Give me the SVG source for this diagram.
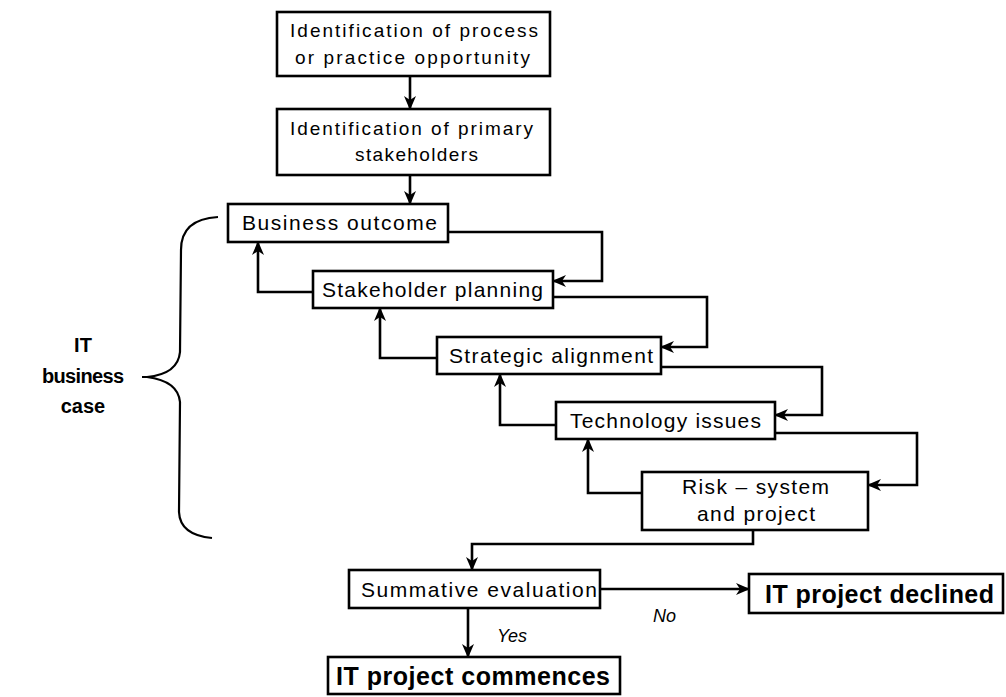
<svg xmlns="http://www.w3.org/2000/svg" width="1006" height="697" viewBox="0 0 1006 697">
  <style>
    .box { fill: #fff; stroke: #000; stroke-width: 2.6; }
    .t { font-family: "Liberation Sans", Arial, sans-serif; fill: #000; }
    .s17 { font-size: 19px; }
    .s19 { font-size: 21px; }
    .big { font-size: 25px; font-weight: bold; }
    .lab { font-family: "Liberation Sans", Arial, sans-serif; font-size: 18px; font-style: italic; fill: #000; }
    .side { font-family: "Liberation Sans", Arial, sans-serif; font-size: 20px; font-weight: bold; fill: #000; text-anchor: middle; }
    .c { fill: none; stroke: #000; stroke-width: 2.6; stroke-linejoin: miter; }
  </style>
  <defs>
    <marker id="ah" viewBox="0 0 14 12" refX="13" refY="6" markerWidth="14" markerHeight="12" markerUnits="userSpaceOnUse" orient="auto">
      <path d="M0,0 L14,6 L0,12 L4,6 z" fill="#000"/>
    </marker>
  </defs>
  <rect width="1006" height="697" fill="#fff"/>

  <!-- connectors -->
  <g id="connectors">
    <path class="c" d="M410,76 V109" marker-end="url(#ah)"/>
    <path class="c" d="M410,175 V204" marker-end="url(#ah)"/>
    <path class="c" d="M448,232 H602 V281 H553" marker-end="url(#ah)"/>
    <path class="c" d="M313,292 H258 V242" marker-end="url(#ah)"/>
    <path class="c" d="M553,297 H707 V347 H661" marker-end="url(#ah)"/>
    <path class="c" d="M437,358 H380 V308" marker-end="url(#ah)"/>
    <path class="c" d="M661,367 H822 V415 H775" marker-end="url(#ah)"/>
    <path class="c" d="M556,425 H500 V374" marker-end="url(#ah)"/>
    <path class="c" d="M775,433 H917 V485 H868" marker-end="url(#ah)"/>
    <path class="c" d="M642,493 H588 V439" marker-end="url(#ah)"/>
    <path class="c" d="M753,530 V544 H472 V570" marker-end="url(#ah)"/>
    <path class="c" d="M600,589 H749" marker-end="url(#ah)"/>
    <path class="c" d="M468,608 V657" marker-end="url(#ah)"/>
  </g>

  <!-- curly brace grouping the business case steps -->
  <g id="brace">
    <path d="M218,217 Q181,219 181,250 L180,352 Q178,374 147,377 Q178,381 180,402 L179,512 Q180,535 212,538" fill="none" stroke="#000" stroke-width="2.2"/>
    <path d="M142,377 H149" stroke="#000" stroke-width="2"/>
    <text class="side" x="83" y="352">IT</text>
    <text class="side" x="83" y="383" textLength="82">business</text>
    <text class="side" x="83" y="413">case</text>
  </g>

  <g id="n-opportunity">
    <rect class="box" x="277" y="12" width="273" height="64"/>
    <text class="t s17" x="290" y="37" textLength="248">Identification of process</text>
    <text class="t s17" x="295" y="64" textLength="235">or practice opportunity</text>
  </g>

  <g id="n-stakeholders">
    <rect class="box" x="277" y="109" width="273" height="66"/>
    <text class="t s17" x="290" y="135" textLength="243">Identification of primary</text>
    <text class="t s17" x="355" y="161" textLength="123">stakeholders</text>
  </g>

  <g id="n-outcome">
    <rect class="box" x="228" y="204" width="220" height="38"/>
    <text class="t s19" x="242" y="230" textLength="195">Business outcome</text>
  </g>

  <g id="n-planning">
    <rect class="box" x="313" y="271" width="240" height="37"/>
    <text class="t s19" x="322" y="297" textLength="221">Stakeholder planning</text>
  </g>

  <g id="n-alignment">
    <rect class="box" x="437" y="337" width="224" height="37"/>
    <text class="t s19" x="449" y="363" textLength="204">Strategic alignment</text>
  </g>

  <g id="n-technology">
    <rect class="box" x="556" y="402" width="219" height="37"/>
    <text class="t s19" x="570" y="428" textLength="191">Technology issues</text>
  </g>

  <g id="n-risk">
    <rect class="box" x="642" y="472" width="226" height="58"/>
    <text class="t s19" x="682" y="494" textLength="147">Risk – system</text>
    <text class="t s19" x="697" y="521" textLength="118">and project</text>
  </g>

  <g id="n-evaluation">
    <rect class="box" x="349" y="570" width="251" height="38"/>
    <text class="t s19" x="361" y="597" textLength="236">Summative evaluation</text>
  </g>

  <g id="n-declined">
    <rect class="box" x="749" y="574" width="254" height="39"/>
    <text class="t big" x="765" y="603" textLength="229">IT project declined</text>
  </g>

  <g id="n-commences">
    <rect class="box" x="328" y="657" width="292" height="37"/>
    <text class="t big" x="336" y="685" textLength="274">IT project commences</text>
  </g>

  <g id="labels">
    <text class="lab" x="653" y="622">No</text>
    <text class="lab" x="497" y="642">Yes</text>
  </g>
</svg>
